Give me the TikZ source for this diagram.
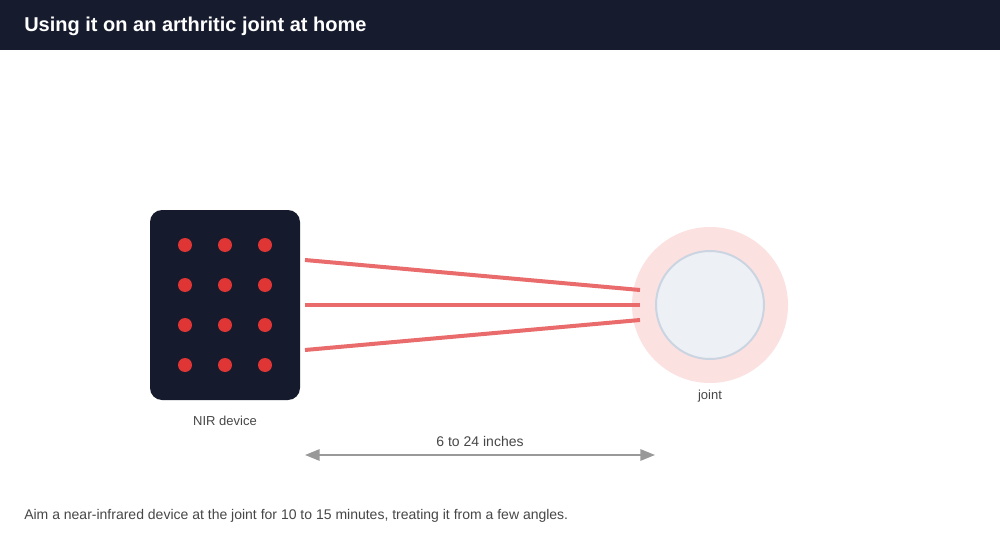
\documentclass[tikz,border=0pt]{standalone}
\usepackage[svgnames]{xcolor}
\usepackage{fontspec}
\setmainfont{Liberation Sans}
\usetikzlibrary{
  arrows.meta,
  positioning
}
\definecolor{headerBlue}{HTML}{161B2E}
\definecolor{deviceBody}{HTML}{161A2D}
\definecolor{ledRed}{HTML}{E03535}
\definecolor{beamRed}{HTML}{E96B6B}
\definecolor{haloPink}{HTML}{FCE1E1}
\definecolor{jointFill}{HTML}{EDF0F5}
\definecolor{jointEdge}{HTML}{CBD5E1}
\colorlet{labelGrey}{black!72}
\colorlet{measureGrey}{black!40}
\tikzset{
  small text/.style={font=\fontsize{9.75pt}{12pt}\selectfont, text=labelGrey},
  every label text/.style={small text, inner sep=0pt},
  note text/.style={every label text, font=\fontsize{10.5pt}{12pt}\selectfont}
}

\begin{document}
\begin{tikzpicture}[
  x=0.75pt, y=-0.75pt,
  device/.style={draw=none, fill=deviceBody, rounded corners=9pt,
    minimum width=112.5pt, minimum height=142.5pt},
  led/.style={circle, fill=ledRed, minimum size=10.5pt, inner sep=0pt},
  halo/.style={circle, fill=haloPink, minimum size=117pt, inner sep=0pt},
  joint/.style={circle, fill=jointFill, draw=jointEdge, line width=1.5pt,
    minimum size=81pt, inner sep=0pt},
  beam/.style={beamRed, line width=3pt},
  measure/.style={measureGrey, line width=1.5pt,
    {Triangle[length=11pt,width=8.5pt]}-{Triangle[length=11pt,width=8.5pt]}}
]
\useasboundingbox[fill=white] (0,0) rectangle (1000,560);

% header
\fill[headerBlue] (0,0) rectangle (1000,50);
\node[anchor=west, inner sep=0pt, text=white,
  font=\fontsize{15pt}{17pt}\selectfont\bfseries] (title) at (24,26)
  {Using it on an arthritic joint at home};

% the device and its LEDs
\node[device] (device) at (225,305) {};
\foreach \r in {1,...,4} {
  \foreach \c in {1,...,3} {
    \node[led] (led-\r-\c) at (145+40*\c, 205+40*\r) {};
  }
}
\node[every label text] (device label) at (225,421) {NIR device};

% the joint
\node[halo] (halo) at (710,305) {};
\node[joint] (joint) at (710,305) {};
\node[every label text] (joint label) at (710,396) {joint};

% beams
\foreach \k/\ys/\ye in {1/260/290, 2/305/305, 3/350/320} {
  \coordinate (beam start \k) at (305,\ys);
  \coordinate (beam end \k) at (640,\ye);
  \draw[beam] (beam start \k) -- (beam end \k);
}

% distance
\coordinate (near) at (305,455);
\coordinate (far) at (655,455);
\draw[measure] (near) -- (far);
\node[note text] (distance) at (480,441) {6 to 24 inches};

% caption
\node[note text, anchor=west] (caption) at (24,516)
  {Aim a near-infrared device at the joint for 10 to 15 minutes, treating it from a few angles.};
\end{tikzpicture}
\end{document}
